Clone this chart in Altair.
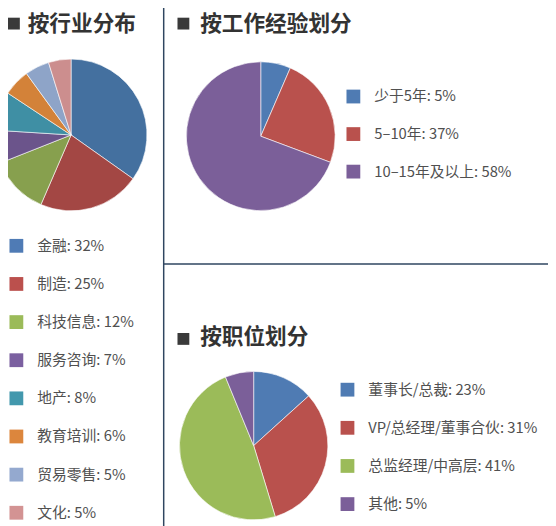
import altair as alt
import pandas as pd

# ---------------- data ----------------
# legend texts (as printed) and slice shares (as drawn in the picture)
industry_names = ["金融", "制造", "科技信息", "服务咨询", "地产", "教育培训", "贸易零售", "文化"]
industry_pct = [32, 25, 12, 7, 8, 6, 5, 5]
industry_slice = [34.8, 21.7, 12.5, 7.0, 8.3, 5.7, 5.2, 4.8]

exp_names = ["少于5年", "5–10年", "10–15年及以上"]
exp_pct = [5, 37, 58]
exp_slice = [6.5, 24.2, 69.3]

pos_names = ["董事长/总裁", "VP/总经理/董事合伙", "总监经理/中高层", "其他"]
pos_pct = [23, 31, 41, 5]
pos_slice = [13.3, 32.0, 48.5, 6.2]

titles = ["按行业分布", "按工作经验划分", "按职位划分"]

# ---------------- styles ----------------
FONT = "Noto Sans CJK SC"
TITLE_FONT = "Liberation Sans, Noto Sans CJK SC"
industry_pie_colors = ["#44709f", "#a34744", "#87a04e", "#6b548b", "#3f8fa4", "#d38239", "#8ea4c8", "#cc8e8e"]
industry_legend_colors = ["#4f7bb5", "#bb504d", "#9bbb59", "#7b60a0", "#4298ad", "#dc863d", "#94a9cf", "#d39393"]
exp_colors = ["#4f7bb3", "#b9514d", "#7b5f99"]
pos_colors = ["#4f7bb3", "#b9514d", "#9bbb59", "#7b5f99"]
LINE = "#2f4660"
W, H = 548, 518


def X(v):
    return v - 8


def Y(v):
    return v - 8


def frame(names, pct, share):
    return pd.DataFrame({
        "label": [f"{n}: {p}%" for n, p in zip(names, pct)],
        "value": share,
        "idx": list(range(len(names))),
    })


def legend_for(lx, ly, row_pad):
    return alt.Legend(
        orient="none", legendX=X(lx), legendY=Y(ly), title=None,
        symbolType="square", symbolSize=196, symbolStrokeWidth=0,
        labelFont=FONT, labelFontSize=15, labelColor="#505050",
        labelOffset=13.7, rowPadding=row_pad, padding=0, labelLimit=400,
        direction="vertical",
    )


def pie(df, colors, cx, cy, r, legend):
    return alt.Chart(df).mark_arc(
        outerRadius=r, stroke="#ffffff", strokeWidth=0.6
    ).encode(
        theta=alt.Theta("value:Q", stack=True),
        color=alt.Color("label:N", scale=alt.Scale(domain=list(df["label"]), range=colors),
                        legend=legend),
        order=alt.Order("idx:Q"),
        x=alt.value(X(cx)), y=alt.value(Y(cy)),
    )


ind = frame(industry_names, industry_pct, industry_slice)
exp = frame(exp_names, exp_pct, exp_slice)
pos = frame(pos_names, pos_pct, pos_slice)

ind_pie = pie(ind, industry_pie_colors, 72, 133, 77, None)
# legend carrier for the industry pie (lighter legend swatches), drawn off canvas
ind_leg = alt.Chart(ind).mark_arc(outerRadius=5).encode(
    theta=alt.Theta("value:Q", stack=True),
    color=alt.Color("label:N", scale=alt.Scale(domain=list(ind["label"]), range=industry_legend_colors),
                    legend=legend_for(9, 238, 22.7)),
    order=alt.Order("idx:Q"),
    x=alt.value(-400), y=alt.value(-400),
)
exp_pie = pie(exp, exp_colors, 264.5, 134.3, 75.5, legend_for(351, 86.5, 22.1))
pos_pie = pie(pos, pos_colors, 257.3, 448.3, 75.3, legend_for(345, 384, 22.7))

one = pd.DataFrame({"k": [0]})
vline = alt.Chart(one).mark_rule(color=LINE, strokeWidth=1.5).encode(
    x=alt.value(X(166)), y=alt.value(-5), y2=alt.value(H + 5))
hline = alt.Chart(one).mark_rule(color=LINE, strokeWidth=1.5).encode(
    x=alt.value(X(166)), x2=alt.value(W + 5), y=alt.value(Y(264)))


def title_layers(text, sx, sy, tx, ty, base):
    d = pd.DataFrame({"t": [text]})
    sq = alt.Chart(d).mark_square(size=144, color="#3a3a3a", opacity=1).encode(
        x=alt.value(X(sx)), y=alt.value(Y(sy)))
    tt = alt.Chart(d).mark_text(
        font=TITLE_FONT, fontSize=22, fontWeight="bold", color="#333333",
        align="left", baseline=base,
    ).encode(text="t:N", x=alt.value(X(tx)), y=alt.value(Y(ty)))
    return [sq, tt]


layers = [ind_pie, ind_leg, exp_pie, pos_pie, vline, hline]
# top titles sit a few pixels lower than the reference so they stay inside the page
layers += title_layers(titles[0], 14, 20, 28, 11, "top")
layers += title_layers(titles[1], 186, 20, 203, 11, "top")
layers += title_layers(titles[2], 186, 340, 203, 338.5, "middle")

chart = alt.layer(*layers).resolve_scale(
    color="independent", theta="independent"
).resolve_legend(color="independent").properties(
    width=W, height=H, padding=0, autosize="none"
).configure_view(stroke=None)

chart.save("out.html", embed_options={"renderer": "svg", "actions": False})
